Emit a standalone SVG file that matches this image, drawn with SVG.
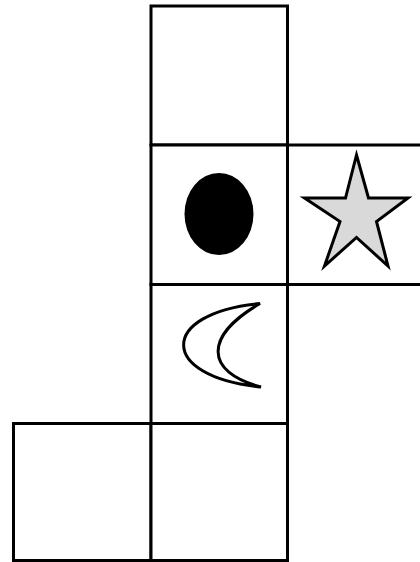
<svg xmlns="http://www.w3.org/2000/svg" width="420" height="562" viewBox="0 0 420 562">
<style>
.cell{fill:#fff;stroke:#000;stroke-width:3}
.sym{stroke:#000;stroke-width:3;stroke-linejoin:miter}
</style>
<rect width="420" height="562" fill="#fff"/>
<g id="cell-top"><rect class="cell" x="151" y="6" width="136.5" height="139"/></g>
<g id="cell-oval"><rect class="cell" x="151" y="145" width="136.5" height="139.5"/>
<ellipse cx="219" cy="214" rx="34.5" ry="41" fill="#000"/></g>
<g id="cell-star"><path class="cell" d="M287.5,145 H421 M287.5,284.5 H421" fill="none"/>
<polygon class="sym" fill="#d9d9d9" points="356.5,155 368.5,198 408,198 376.5,221.5 388,266 356.5,237.5 324.5,266 340,221.5 304.5,198 345.5,198"/></g>
<g id="cell-moon"><rect class="cell" x="151" y="284.5" width="136.5" height="139"/>
<path class="sym" fill="#fff" d="M260,303.5 C158,313 158,377 261,387 C204,372 204,336 260,303.5 Z" stroke-width="2.8"/></g>
<g id="cell-bottom-left"><rect class="cell" x="13.5" y="423.5" width="137.5" height="137"/></g>
<g id="cell-bottom"><rect class="cell" x="151" y="423.5" width="136.5" height="137"/></g>
</svg>
